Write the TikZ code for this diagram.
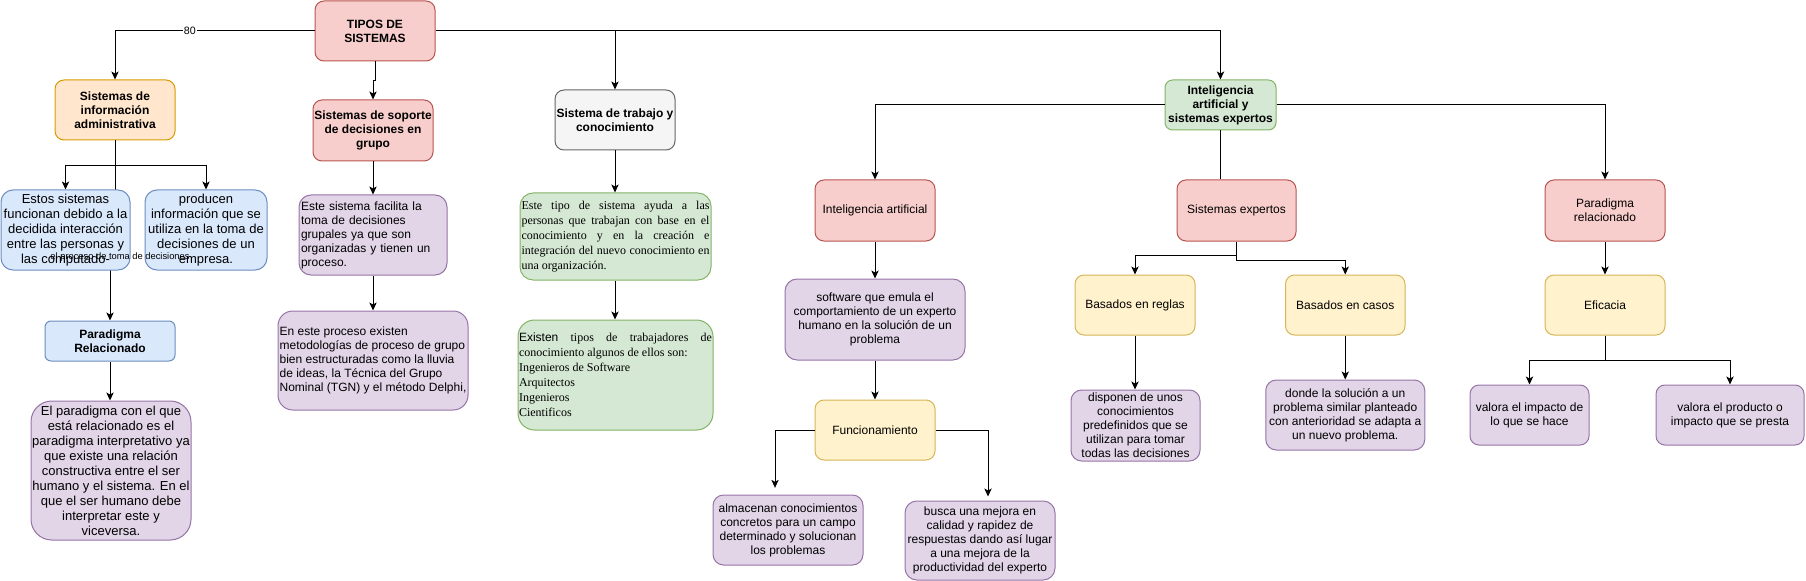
\documentclass[tikz,border=0pt]{standalone}
\usepackage{fontspec}
\setmainfont{Liberation Sans}
\newfontfamily\tnr{Liberation Serif}
\newfontfamily\arialf{Liberation Sans}
\usetikzlibrary{arrows.meta}
\definecolor{rF}{HTML}{F8CECC}\definecolor{rD}{HTML}{B85450}
\definecolor{oF}{HTML}{FFE6CC}\definecolor{oD}{HTML}{D79B00}
\definecolor{bF}{HTML}{DAE8FC}\definecolor{bD}{HTML}{6C8EBF}
\definecolor{pF}{HTML}{E1D5E7}\definecolor{pD}{HTML}{9673A6}
\definecolor{gF}{HTML}{D5E8D4}\definecolor{gD}{HTML}{82B366}
\definecolor{yF}{HTML}{FFF2CC}\definecolor{yD}{HTML}{D6B656}
\definecolor{kF}{HTML}{F5F5F5}\definecolor{kD}{HTML}{666666}
\newcommand\fsn{\fontsize{9}{10.5}\selectfont}
\newcommand\fsm{\fontsize{9.75}{11.25}\selectfont}
\newcommand\fst{\tnr\fontsize{9}{11.25}\selectfont}
\pgfdeclarelayer{bg}\pgfsetlayers{bg,main}
\begin{document}
\begin{tikzpicture}[x=0.75pt,y=-0.75pt,
  bx/.style={draw, line width=0.75pt, rounded corners=6.75pt, inner sep=0pt, align=center, font=\fsn},
  wh/.style 2 args={minimum width=#1*0.75pt, minimum height=#2*0.75pt},
  hd/.style={font=\fsn\bfseries},
  mid/.style={font=\fsm},
  redbox/.style={bx, fill=rF, draw=rD},
  orabox/.style={bx, fill=oF, draw=oD},
  bluebox/.style={bx, fill=bF, draw=bD},
  purbox/.style={bx, fill=pF, draw=pD},
  grnbox/.style={bx, fill=gF, draw=gD},
  yelbox/.style={bx, fill=yF, draw=yD},
  graybox/.style={bx, fill=kF, draw=kD},
  arr/.style={line width=0.75pt, -{Stealth[length=6pt,width=5.5pt,inset=1.5pt]}},
  ln/.style={line width=0.75pt},
  lbl/.style={font=\fontsize{8}{9}\selectfont, fill=white, inner sep=1pt}
]
\useasboundingbox (0,0) rectangle (1806,581);

% ---- nodes ----
\node[redbox, hd, wh={120}{60}] (tipos) at (375,31) {TIPOS DE\\SISTEMAS};
\node[orabox, hd, wh={120}{60}] (sia) at (115,110) {Sistemas de\\información\\administrativa};
\node[redbox, hd, wh={120}{61}] (soporte) at (373,130.5) {Sistemas de soporte\\de decisiones en\\grupo};
\node[graybox, hd, wh={120}{60}] (trabajo) at (615,120) {Sistema de trabajo y\\conocimiento};
\node[grnbox, hd, wh={111}{50}, rounded corners=5.7pt] (iase) at (1220.5,105) {Inteligencia\\artificial y\\sistemas expertos};

\node[bluebox, mid, wh={129}{80}, rounded corners=9pt] (estos) at (65.5,230) {Estos sistemas\\funcionan debido a la\\decidida interacción\\entre las personas y\\las computado-};
\node[bluebox, mid, wh={122}{80}, rounded corners=9pt] (producen) at (206,230) {producen\\información que se\\utiliza en la toma de\\decisiones de un\\empresa.};
\node[bluebox, hd, wh={130}{40}, rounded corners=4.5pt] (pararel) at (110,341) {Paradigma\\Relacionado};
\node[purbox, mid, wh={160}{139}, rounded corners=15.6pt] (elpar) at (111,470.5) {El paradigma con el que\\está relacionado es el\\paradigma interpretativo ya\\que existe una relación\\constructiva entre el ser\\humano y el sistema. En el\\que el ser humano debe\\interpretar este y\\viceversa.};

\node[purbox, wh={148}{80}, rounded corners=9pt, text width=108pt, align=left] (estesis) at (373,235) {Este sistema facilita la\\toma de decisiones\\grupales ya que son\\organizadas y tienen un\\proceso.};
\node[purbox, wh={190}{99}, rounded corners=11.1pt, align=left] (eneste) at (373,360.5) {En este proceso existen\\metodologías de proceso de grupo\\bien estructuradas como la lluvia\\de ideas, la Técnica del Grupo\\Nominal (TGN) y el método Delphi,};

\node[grnbox, wh={191}{87}, rounded corners=9.8pt, text width=141pt, align=justify, font=\fst] (estetipo) at (615.5,236.5) {Este tipo de sistema ayuda a las\linebreak personas que trabajan con base en el\linebreak conocimiento y en la creación e\linebreak integración del nuevo conocimiento en\linebreak una organización.};
\node[grnbox, wh={195}{110}, rounded corners=12.4pt, text width=144.75pt, align=justify, font=\fst] (existen) at (615.5,375) {{\arialf Existen} tipos de trabajadores de\linebreak conocimiento algunos de ellos son:\\Ingenieros de Software\\Arquitectos\\Ingenieros\\Cientificos};

\node[redbox, wh={120}{61}] (ia) at (875,210.5) {Inteligencia artificial};
\node[purbox, wh={180}{81}, rounded corners=9.1pt] (software) at (875,319.5) {software que emula el\\comportamiento de un experto\\humano en la solución de un\\problema};
\node[yelbox, wh={120}{60}] (func) at (875,430) {Funcionamiento};
\node[purbox, wh={150}{70}, rounded corners=7.9pt] (almacenan) at (788,530) {almacenan conocimientos\\concretos para un campo\\determinado y solucionan\\los problemas};
\node[purbox, wh={150}{79}, rounded corners=8.9pt] (busca) at (980,540.5) {busca una mejora en\\calidad y rapidez de\\respuestas dando así lugar\\a una mejora de la\\productividad del experto};

\node[redbox, wh={119}{61}] (se) at (1236.5,210.5) {Sistemas expertos};
\node[yelbox, wh={120}{60}] (reglas) at (1135,305) {Basados en reglas};
\node[yelbox, wh={119.5}{60}] (casos) at (1345.25,305) {Basados en casos};
\node[purbox, wh={129}{71}, rounded corners=8pt] (disponen) at (1135.5,425.5) {disponen de unos\\conocimientos\\predefinidos que se\\utilizan para tomar\\todas las decisiones};
\node[purbox, wh={159}{70}, rounded corners=7.9pt] (donde) at (1345.25,415) {donde la solución a un\\problema similar planteado\\con anterioridad se adapta a\\un nuevo problema.};

\node[redbox, wh={120}{61}] (parrel2) at (1605,210.5) {Paradigma\\relacionado};
\node[yelbox, wh={120}{60}] (eficacia) at (1605,305) {Eficacia};
\node[purbox, wh={119}{60}] (impacto) at (1529.5,415) {valora el impacto de\\lo que se hace};
\node[purbox, wh={148}{60}] (producto) at (1730,415) {valora el producto o\\impacto que se presta};

% ---- connectors ----
\begin{pgfonlayer}{bg}
\draw[arr] (sia.south) -- ++(0,90) -| (pararel.north);
\end{pgfonlayer}
\node[font=\fontsize{7}{8}\selectfont, inner sep=0pt] (lblproc) at (120,257) {el proceso de toma de decisiones};

\draw[arr] (tipos.west) -| node[lbl, pos=0.3125] (lbl80) {80} (sia.north);
\draw[arr] (tipos.south) -- ++(0,19) -| (soporte.north);
\draw[arr] (tipos.east) -| (trabajo.north);
\draw[arr] (tipos.east) -| (iase.north);

\draw[arr] (sia.south) -- ++(0,25) -| (estos.north);
\draw[arr] (sia.south) -- ++(0,25) -| (producen.north);
\draw[arr] (pararel.south) -- (elpar.north -| pararel.south);

\draw[arr] (soporte.south) -- (estesis.north);
\draw[arr] (estesis.south) -- (eneste.north);

\draw[arr] (trabajo.south) -- (estetipo.north -| trabajo.south);
\draw[arr] (estetipo.south -| trabajo.south) -- (existen.north -| trabajo.south);

\draw[arr] (iase.west) -| (ia.north);
\draw[ln] (iase.south) -- (iase.south |- se.north);
\draw[arr] (iase.east) -| (parrel2.north);

\draw[arr] (ia.south) -- (software.north);
\draw[arr] (software.south) -- (func.north);
\draw[arr, shorten >=5pt] (func.west) -| ([xshift=-9.75pt]almacenan.north);
\draw[arr, shorten >=3pt] (func.east) -| ([xshift=6pt]busca.north);

\draw[arr] (se.south) -- ++(0,14) -| (reglas.north);
\draw[arr] (se.south) -- ++(0,19) -| (casos.north);
\draw[arr] (reglas.south) -- (disponen.north -| reglas.south);
\draw[arr] (casos.south) -- (donde.north -| casos.south);

\draw[arr] (parrel2.south) -- (eficacia.north);
\draw[arr] (eficacia.south) -- ++(0,25) -| (impacto.north);
\draw[arr] (eficacia.south) -- ++(0,25) -| (producto.north);
\end{tikzpicture}
\end{document}
